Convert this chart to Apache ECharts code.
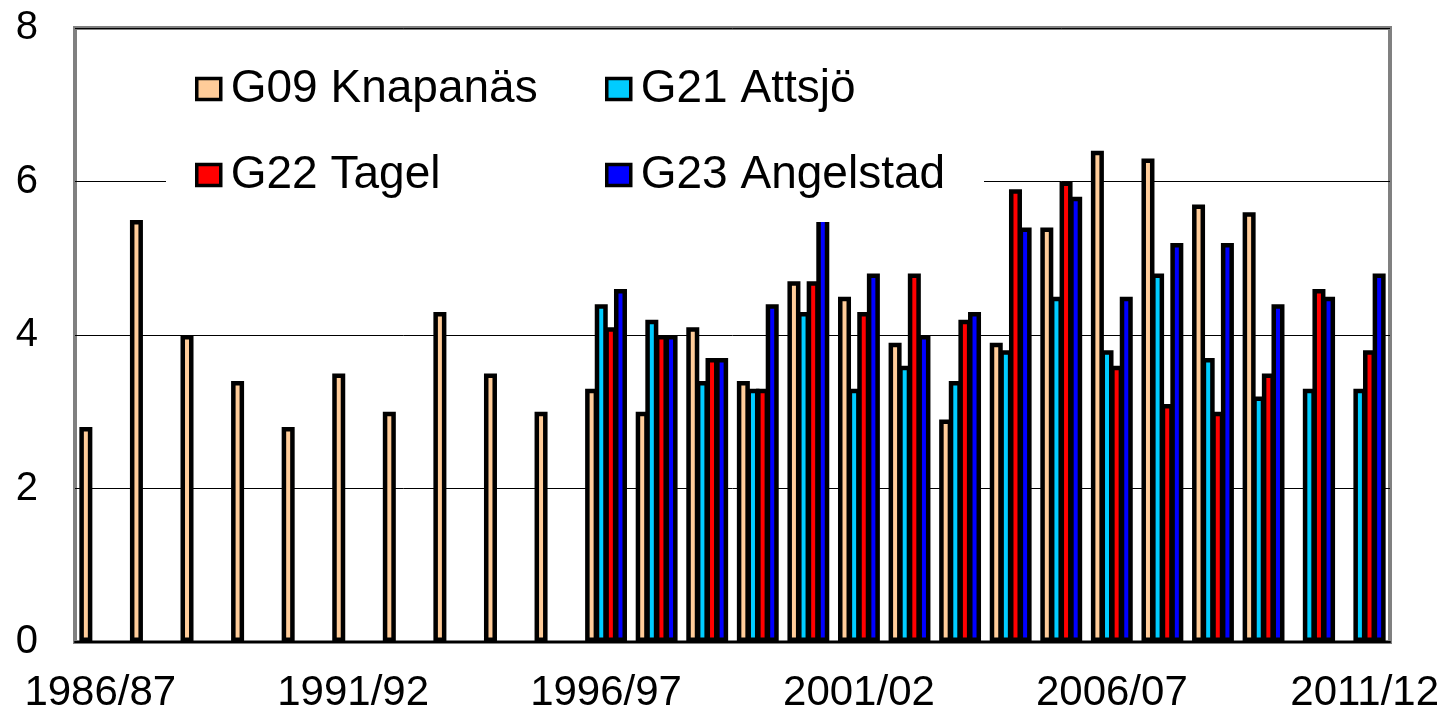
<!DOCTYPE html>
<html>
<head>
<meta charset="utf-8">
<script src="https://cdn.jsdelivr.net/npm/echarts@6/dist/echarts.min.js"></script>
<style>
  html, body { margin: 0; padding: 0; background: #ffffff; }
  #myChart { width: 1445px; height: 714px; }
</style>
</head>
<body>
<div id="myChart"></div>
<script>
// vintersäsonger
var seasons = ["1986/87", "1987/88", "1988/89", "1989/90", "1990/91", "1991/92", "1992/93",
  "1993/94", "1994/95", "1995/96", "1996/97", "1997/98", "1998/99", "1999/00", "2000/01",
  "2001/02", "2002/03", "2003/04", "2004/05", "2005/06", "2006/07", "2007/08", "2008/09",
  "2009/10", "2010/11", "2011/12"];

var g09 = [2.8, 5.5, 4.0, 3.4, 2.8, 3.5, 3.0, 4.3, 3.5, 3.0,
  3.3, 3.0, 4.1, 3.4, 4.7, 4.5, 3.9, 2.9, 3.9, 5.4, 6.4, 6.3, 5.7, 5.6, null, null];
var g21 = [null, null, null, null, null, null, null, null, null, null,
  4.4, 4.2, 3.4, 3.3, 4.3, 3.3, 3.6, 3.4, 3.8, 4.5, 3.8, 4.8, 3.7, 3.2, 3.3, 3.3];
var g22 = [null, null, null, null, null, null, null, null, null, null,
  4.1, 4.0, 3.7, 3.3, 4.7, 4.3, 4.8, 4.2, 5.9, 6.0, 3.6, 3.1, 3.0, 3.5, 4.6, 3.8];
var g23 = [null, null, null, null, null, null, null, null, null, null,
  4.6, 4.0, 3.7, 4.4, 5.6, 4.8, 4.0, 4.3, 5.4, 5.8, 4.5, 5.2, 5.2, 4.4, 4.5, 4.8];

var names = ["G09 Knapanäs", "G21 Attsjö", "G22 Tagel", "G23 Angelstad"];
var colors = ["#FFCC99", "#00CCFF", "#FF0000", "#0000FF"];
var yTicks = { min: 0, max: 8, interval: 2 };

var font = "'Liberation Sans', Arial, sans-serif";

function barSeries(i, data) {
  return {
    name: names[i],
    type: "bar",
    data: data,
    barWidth: 13,
    barGap: "-26%",
    itemStyle: {
      color: colors[i],
      borderColor: "#000000",
      borderWidth: 4.5
    }
  };
}

var legendStyle = {
  orient: "vertical",
  top: 59,
  icon: "rect",
  itemWidth: 24,
  itemHeight: 21,
  itemGap: 36,
  itemStyle: { borderColor: "#000000", borderWidth: 3.5 },
  textStyle: { fontSize: 46, fontFamily: font, color: "#000", lineHeight: 50, padding: [0, 0, 0, 5] }
};

var myChart = echarts.init(document.getElementById("myChart"));
myChart.setOption({
  animation: false,
  backgroundColor: "#ffffff",
  grid: {
    left: 75,
    right: 55,
    top: 28,
    bottom: 70,
    show: true,
    borderColor: "#808080",
    borderWidth: 4
  },
  // vit ruta bakom förklaringen
  graphic: [{
    type: "rect",
    z: 3,
    shape: { x: 166, y: 45, width: 818, height: 177 },
    style: { fill: "#ffffff" }
  }],
  legend: [
    Object.assign({ data: [names[0], names[2]], left: 190 }, legendStyle),
    Object.assign({ data: [names[1], names[3]], left: 600 }, legendStyle)
  ],
  xAxis: {
    type: "category",
    data: seasons,
    axisLine: { lineStyle: { color: "#000000", width: 2 } },
    axisTick: { interval: 0, length: 13, lineStyle: { color: "#808080", width: 1 } },
    axisLabel: { interval: 4, fontSize: 42, fontFamily: font, color: "#000", margin: 30 },
    splitLine: { show: false }
  },
  yAxis: {
    type: "value",
    min: yTicks.min,
    max: yTicks.max,
    interval: yTicks.interval,
    axisLine: { show: false },
    axisTick: { show: false },
    axisLabel: { fontSize: 40, fontFamily: font, color: "#000", margin: 37 },
    splitLine: { lineStyle: { color: "#000000", width: 1 } }
  },
  series: [
    barSeries(0, g09),
    barSeries(1, g21),
    barSeries(2, g22),
    barSeries(3, g23)
  ]
});
</script>
</body>
</html>
